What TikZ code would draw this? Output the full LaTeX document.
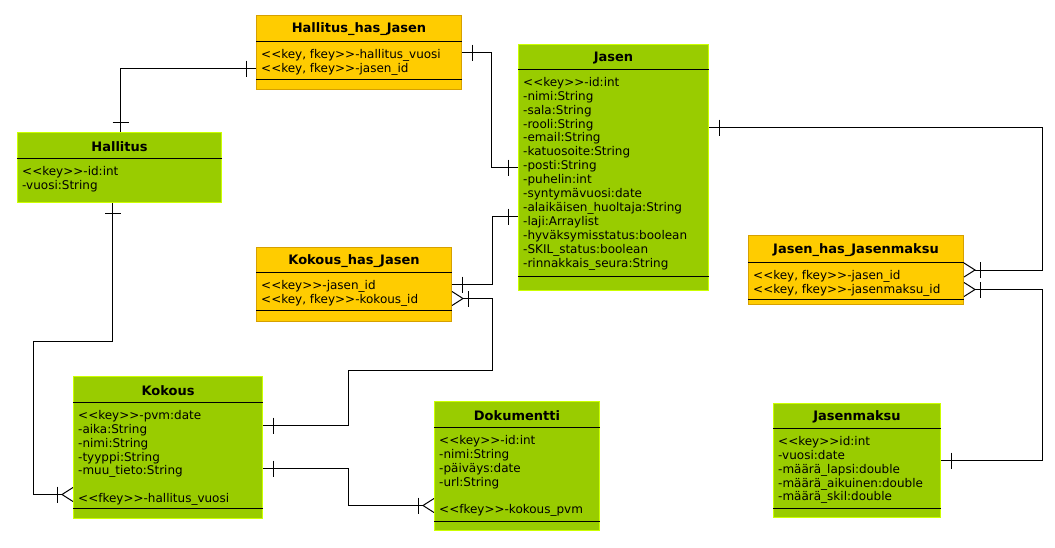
\documentclass[tikz,border=0pt]{standalone}
\usepackage{fontspec}
\newfontfamily\umlfont{DejaVu Sans}[Ligatures=TeXOff]
\usetikzlibrary{positioning,decorations.markings}

\definecolor{tablegreen}{RGB}{153,204,0}
\definecolor{tableorange}{RGB}{255,204,0}
\definecolor{edgegreen}{RGB}{204,255,0}
\definecolor{edgeorange}{RGB}{214,160,0}

\tikzset {
    style green/.style={
        fill=tablegreen,
        draw=edgegreen,
        line width=1pt,
        rectangle, % table box
        inner sep=0pt,
        anchor=north west,
    },
    style orange/.style={
        fill=tableorange,
        draw=edgeorange,
        line width=1pt,
        rectangle, % table box
        inner sep=0pt,
        anchor=north west,
    },
    style title/.style={
        font=\umlfont\bfseries\fontsize{13}{15}\selectfont,
        inner sep=0pt,
    },
    style rows/.style={
        font=\umlfont\fontsize{12}{13.9}\selectfont,
        align=left,
        inner sep=0pt,
        anchor=north west,
    },
    sep line/.style={draw=black, line width=1pt},
    link/.style={draw=black, line width=1pt},
    one start/.style={postaction={decorate, decoration={markings,
        mark=at position 0 with {\draw[line width=1pt] (10,-8) -- (10,8);}}}},
    one end/.style={postaction={decorate, decoration={markings,
        mark=at position 1 with {\draw[line width=1pt] (-10,-8) -- (-10,8);}}}},
    many end/.style={postaction={decorate, decoration={markings,
        mark=at position 1 with {\draw[line width=1pt] (11,-7) -- (0,0) -- (11,7);
                                 \draw[line width=1pt] (-5,-8) -- (-5,8);}}}},
}

\begin{document}
\begin{tikzpicture}[x=1pt, y=-1pt]
    \useasboundingbox (0,0) rectangle (1055,547);

    % tables
    \node[style orange, minimum width=205pt, minimum height=74pt] (hj) at (256,15) {};
    \node[style title] at ([yshift=-14.5pt]hj.north) {Hallitus\_has\_Jasen};
    \draw[sep line] ([yshift=-26pt]hj.north west) -- ([yshift=-26pt]hj.north east);
    \draw[sep line] ([yshift=-64pt]hj.north west) -- ([yshift=-64pt]hj.north east);
    \node[style rows] at ([xshift=5pt,yshift=-34pt]hj.north west)
        {<<key, fkey>>-hallitus\_vuosi\\<<key, fkey>>-jasen\_id};

    \node[style green, minimum width=190pt, minimum height=246pt] (jasen) at (518,44) {};
    \node[style title] at ([yshift=-14pt]jasen.north) {Jasen};
    \draw[sep line] ([yshift=-25pt]jasen.north west) -- ([yshift=-25pt]jasen.north east);
    \draw[sep line] ([yshift=-232pt]jasen.north west) -- ([yshift=-232pt]jasen.north east);
    \node[style rows] at ([xshift=5pt,yshift=-33pt]jasen.north west)
        {<<key>>-id:int\\-nimi:String\\-sala:String\\-rooli:String\\-email:String\\
         -katuosoite:String\\-posti:String\\-puhelin:int\\-syntymävuosi:date\\
         -alaikäisen\_huoltaja:String\\-laji:Arraylist\\-hyväksymisstatus:boolean\\
         -SKIL\_status:boolean\\-rinnakkais\_seura:String};

    \node[style green, minimum width=204pt, minimum height=70pt] (hallitus) at (17,132) {};
    \node[style title] at ([yshift=-14.5pt]hallitus.north) {Hallitus};
    \draw[sep line] ([yshift=-26pt]hallitus.north west) -- ([yshift=-26pt]hallitus.north east);
    \node[style rows] at ([xshift=5pt,yshift=-34pt]hallitus.north west)
        {<<key>>-id:int\\-vuosi:String};

    \node[style orange, minimum width=195pt, minimum height=74pt] (kj) at (256,247) {};
    \node[style title] at ([yshift=-14pt]kj.north) {Kokous\_has\_Jasen};
    \draw[sep line] ([yshift=-25pt]kj.north west) -- ([yshift=-25pt]kj.north east);
    \draw[sep line] ([yshift=-63pt]kj.north west) -- ([yshift=-63pt]kj.north east);
    \node[style rows] at ([xshift=5pt,yshift=-33pt]kj.north west)
        {<<key>>-jasen\_id\\<<key, fkey>>-kokous\_id};

    \node[style green, minimum width=189pt, minimum height=142pt] (kokous) at (73,376) {};
    \node[style title] at ([yshift=-14.5pt]kokous.north) {Kokous};
    \draw[sep line] ([yshift=-26pt]kokous.north west) -- ([yshift=-26pt]kokous.north east);
    \draw[sep line] ([yshift=-132pt]kokous.north west) -- ([yshift=-132pt]kokous.north east);
    \node[style rows] at ([xshift=5pt,yshift=-34pt]kokous.north west)
        {<<key>>-pvm:date\\-aika:String\\-nimi:String\\-tyyppi:String\\
         -muu\_tieto:String\\[13.9pt]<<fkey>>-hallitus\_vuosi};

    \node[style green, minimum width=165pt, minimum height=129pt] (doku) at (434,401) {};
    \node[style title] at ([yshift=-14.5pt]doku.north) {Dokumentti};
    \draw[sep line] ([yshift=-26pt]doku.north west) -- ([yshift=-26pt]doku.north east);
    \draw[sep line] ([yshift=-120pt]doku.north west) -- ([yshift=-120pt]doku.north east);
    \node[style rows] at ([xshift=5pt,yshift=-34pt]doku.north west)
        {<<key>>-id:int\\-nimi:String\\-päiväys:date\\-url:String\\[13.9pt]<<fkey>>-kokous\_pvm};

    \node[style orange, minimum width=215pt, minimum height=69pt] (jhm) at (748,235) {};
    \node[style title] at ([yshift=-15pt]jhm.north) {Jasen\_has\_Jasenmaksu};
    \draw[sep line] ([yshift=-27pt]jhm.north west) -- ([yshift=-27pt]jhm.north east);
    \draw[sep line] ([yshift=-64pt]jhm.north west) -- ([yshift=-64pt]jhm.north east);
    \node[style rows] at ([xshift=5pt,yshift=-35pt]jhm.north west)
        {<<key, fkey>>-jasen\_id\\<<key, fkey>>-jasenmaksu\_id};

    \node[style green, minimum width=167pt, minimum height=114pt] (jmaksu) at (773,403) {};
    \node[style title] at ([yshift=-14pt]jmaksu.north) {Jasenmaksu};
    \draw[sep line] ([yshift=-25pt]jmaksu.north west) -- ([yshift=-25pt]jmaksu.north east);
    \draw[sep line] ([yshift=-105pt]jmaksu.north west) -- ([yshift=-105pt]jmaksu.north east);
    \node[style rows] at ([xshift=5pt,yshift=-33pt]jmaksu.north west)
        {<<key>>id:int\\-vuosi:date\\-määrä\_lapsi:double\\-määrä\_aikuinen:double\\-määrä\_skil:double};

    % relations
    \draw[link, one start, one end] ([xshift=1pt]hallitus.north) |- ([yshift=-16pt]hj.west);
    \draw[link, one start, one end] (hj.east) -- ++(29,0) |- (jasen.west);
    \draw[link, one start, one end] (kj.east) -- ++(40,0) |- ([yshift=-49pt]jasen.west);
    \draw[link, one start, many end] ([yshift=22pt]kokous.east) -- ++(85,0) -- ++(0,-55)
        -- ++(144,0) |- ([xshift=11pt,yshift=-14pt]kj.east);
    \draw[link, one start, many end] ([yshift=-21pt]kokous.east) -- ++(85,0)
        |- ([xshift=-11pt,yshift=-39.5pt]doku.west);
    \draw[link, one start, many end] ([xshift=-7pt]hallitus.south) -- ++(0,138) -- ++(-79,0)
        |- ([xshift=-11pt,yshift=-47pt]kokous.west);
    \draw[link, one start, many end] ([yshift=40pt]jasen.east) -| ([xshift=78pt]jhm.east)
        -- ([xshift=11pt]jhm.east);
    \draw[link, one start, many end] (jmaksu.east) -| ([xshift=78pt,yshift=-19.5pt]jhm.east)
        -- ([xshift=11pt,yshift=-19.5pt]jhm.east);

\end{tikzpicture}
\end{document}
